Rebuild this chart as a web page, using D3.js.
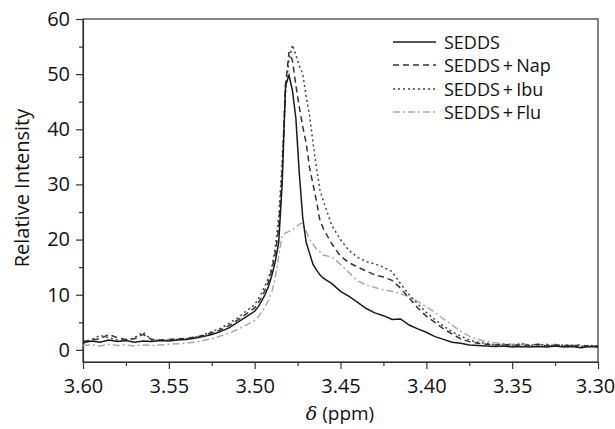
<!DOCTYPE html>
<html>
<head>
<meta charset="utf-8">
<script src="https://cdn.jsdelivr.net/npm/d3@7"></script>
<style>
  body{margin:0;background:#fff;}
  text{font-family:"Open Sans",sans-serif;fill:#111;}
  .axis path,.axis line{stroke:#333;stroke-width:1.2;}
  .axis text{font-size:20px;}
</style>
</head>
<body>
<svg width="615" height="429"></svg>
<script>
// chemical shift grid (ppm) shared by all four spectra
const ppm=[3.600,3.595,3.590,3.585,3.580,3.575,3.570,3.565,3.560,3.555,3.550,3.545,3.540,3.535,3.530,3.525,3.520,3.515,3.510,3.505,
  3.500,3.498,3.496,3.494,3.492,3.490,3.488,3.486,3.484,3.482,3.480,3.478,3.476,3.474,3.472,3.470,3.468,3.466,3.464,3.462,3.460,
  3.455,3.450,3.445,3.440,3.435,3.430,3.425,3.420,3.415,3.410,3.405,3.400,3.395,3.390,3.385,3.380,3.375,3.370,3.365,3.360,
  3.355,3.350,3.345,3.340,3.335,3.330,3.325,3.320,3.315,3.310,3.305,3.300];

const sedds=[1.3,1.6,1.4,1.8,1.5,1.7,1.4,1.6,1.5,1.7,1.6,1.8,1.9,2.1,2.4,2.8,3.3,4.0,5.0,6.0,
  7.0,7.8,8.8,10.0,11.5,13.5,16.0,19.5,30.0,48.0,49.8,47.0,42.0,32.0,24.0,19.5,17.5,15.5,14.5,13.6,13.0,
  12.0,10.6,9.7,8.6,7.5,6.7,6.2,5.5,5.6,4.5,3.8,3.2,2.4,1.9,1.4,1.2,0.9,0.8,0.7,0.6,
  0.7,0.5,0.6,0.5,0.6,0.5,0.7,0.5,0.6,0.4,0.6,0.5];

const seddsNap=[1.5,1.8,2.0,2.8,2.2,1.9,2.0,2.8,1.9,1.8,1.9,2.0,2.1,2.3,2.6,3.1,3.6,4.4,5.4,6.5,
  7.6,8.5,9.5,10.8,12.3,14.5,17.5,22.0,32.0,48.0,54.0,52.5,48.0,44.0,40.5,37.5,33.0,30.0,27.0,23.5,22.0,
  19.2,17.0,15.8,15.0,14.3,13.6,13.2,12.6,11.2,9.4,7.6,6.1,5.0,3.8,2.9,2.0,1.5,1.2,1.0,0.9,
  1.0,0.8,0.9,0.8,1.0,0.7,0.9,0.8,0.7,0.9,0.6,0.7];

const seddsIbu=[1.2,1.9,2.6,2.2,1.8,1.7,2.2,3.2,1.8,1.7,1.8,1.9,2.0,2.3,2.7,3.3,3.9,4.8,5.8,7.0,
  8.2,9.2,10.3,11.6,13.0,15.0,18.5,24.0,34.0,47.0,52.5,55.3,53.5,51.5,50.0,46.0,42.5,37.5,33.0,29.0,27.0,
  22.5,20.0,18.0,16.8,16.0,15.6,15.0,14.2,12.0,10.0,8.3,6.8,5.5,4.3,3.3,2.5,1.8,1.4,1.2,0.9,
  1.0,0.8,1.1,0.8,0.9,1.0,0.7,0.9,0.8,0.6,0.8,0.7];

const seddsFlu=[0.8,0.9,0.7,1.0,0.8,0.9,0.7,0.9,0.8,0.9,1.0,1.1,1.2,1.4,1.7,2.0,2.5,3.0,3.7,4.5,
  5.3,6.0,6.8,7.8,9.0,10.5,13.0,17.0,20.8,21.2,21.5,21.8,22.2,22.8,23.0,21.5,20.0,19.2,18.3,17.8,17.2,
  16.8,15.5,14.0,12.5,11.8,11.3,10.9,10.6,10.2,9.6,8.8,7.8,6.8,5.6,4.5,3.4,2.5,1.9,1.5,1.3,
  1.1,1.0,1.2,0.9,1.0,0.8,1.0,0.7,0.9,0.6,0.8,0.6];

const seriesNames=['SEDDS','SEDDS\u2009+\u2009Nap','SEDDS\u2009+\u2009Ibu','SEDDS\u2009+\u2009Flu'];
const xTicks=[3.60,3.55,3.50,3.45,3.40,3.35,3.30];
const yTicks=[0,10,20,30,40,50,60];

const svg=d3.select('svg');
const width=+svg.attr('width');
const height=+svg.attr('height');
const margin={top:19,right:17,bottom:67,left:83};

const xScale=d3.scaleLinear().domain([3.60,3.30]).range([margin.left,width-margin.right]);
const yScale=d3.scaleLinear().domain([-2.2,60]).range([height-margin.bottom,margin.top]);

/* minor ticks */
svg.append('g').attr('class','axis')
  .attr('transform',`translate(0,${height-margin.bottom})`)
  .call(d3.axisBottom(xScale).tickValues(d3.range(3.575,3.30,-0.05)).tickSize(4).tickFormat(''))
  .select('.domain').remove();
svg.append('g').attr('class','axis')
  .attr('transform',`translate(${margin.left},0)`)
  .call(d3.axisLeft(yScale).tickValues(d3.range(5,60,10)).tickSize(4).tickFormat(''))
  .select('.domain').remove();

/* major ticks */
const xAxisG=svg.append('g').attr('class','axis')
  .attr('transform',`translate(0,${height-margin.bottom})`)
  .call(d3.axisBottom(xScale).tickValues(xTicks).tickSize(7).tickPadding(10).tickSizeOuter(0)
    .tickFormat(d3.format('.2f')));
// last label sits at the page edge, nudge it in
xAxisG.selectAll('.tick text').filter(d=>d===3.30).attr('dx',-3);

svg.append('g').attr('class','axis')
  .attr('transform',`translate(${margin.left},0)`)
  .call(d3.axisLeft(yScale).tickValues(yTicks).tickSize(7).tickPadding(6).tickSizeOuter(0));

// box top + right
svg.append('rect')
  .attr('x',margin.left).attr('y',margin.top)
  .attr('width',width-margin.left-margin.right)
  .attr('height',height-margin.top-margin.bottom)
  .attr('fill','none').attr('stroke','#333').attr('stroke-width',1.2);

/* spectra */
const styles=[
  {data:sedds,color:'#1a1a1a',dash:null},
  {data:seddsNap,color:'#333',dash:'6,4'},
  {data:seddsIbu,color:'#444',dash:'2,3'},
  {data:seddsFlu,color:'#aaa',dash:'7,3,2,3'}
];
const line=d3.line().x(d=>xScale(d[0])).y(d=>yScale(d[1]));

// draw light grey first so the dark traces sit on top
[3,2,1,0].forEach(i=>{
  const s=styles[i];
  svg.append('path')
    .datum(ppm.map((p,j)=>[p,s.data[j]]))
    .attr('d',line)
    .attr('fill','none')
    .attr('stroke',s.color)
    .attr('stroke-width',1.5)
    .attr('stroke-dasharray',s.dash);
});

/* legend */
const legendY=[42,65,89,112];
const lg=svg.append('g');
styles.forEach((s,i)=>{
  lg.append('line')
    .attr('x1',393).attr('x2',436)
    .attr('y1',legendY[i]).attr('y2',legendY[i])
    .attr('stroke',s.color).attr('stroke-width',1.5)
    .attr('stroke-dasharray',s.dash);
  lg.append('text')
    .attr('x',444).attr('y',legendY[i]+6.5)
    .style('font-size','18px')
    .text(seriesNames[i]);
});

/* axis titles */
svg.append('text')
  .attr('transform',`translate(29,188)rotate(-90)`)
  .attr('text-anchor','middle')
  .style('font-size','20px')
  .text('Relative Intensity');

const xt=svg.append('text')
  .attr('x',340).attr('y',420)
  .attr('text-anchor','middle')
  .style('font-size','19px');
xt.append('tspan').style('font-family','"DejaVu Serif",serif').style('font-style','italic').text('\u03b4');
xt.append('tspan').text(' (ppm)');
</script>
</body>
</html>
